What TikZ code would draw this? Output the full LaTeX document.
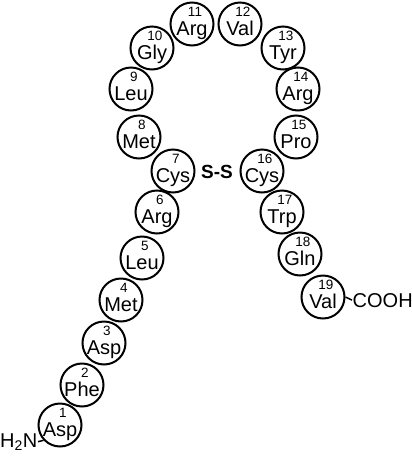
\documentclass[tikz,border=0pt]{standalone}
\usepackage{fontspec}
\setmainfont{Liberation Sans}
\tikzset{
  res/.style={circle, draw, line width=2pt, minimum size=43pt, inner sep=0pt},
  resname/.style={anchor=base, inner sep=0pt, font=\fontsize{20}{20}\selectfont},
  resnum/.style={anchor=base, inner sep=0pt, font=\fontsize{13.5}{13.5}\selectfont},
  endgroup/.style={inner sep=0.5pt, font=\fontsize{20}{20}\selectfont}
}
\begin{document}
\begin{tikzpicture}[x=1pt,y=-1pt]
    \useasboundingbox (0,0) rectangle (412,456);
    \foreach \i/\x/\y/\name in {1/60/425/Asp, 2/82/385/Phe, 3/104/343/Asp, 4/121/300/Met,
        5/142/258/Leu, 6/157/212/Arg, 7/173/171/Cys, 8/139/137/Met, 9/131/89/Leu,
        10/152/48/Gly, 11/192/24/Arg, 12/240/24/Val, 13/283/48/Tyr, 14/298/89/Arg,
        15/296/137/Pro, 16/262/171/Cys, 17/282/212/Trp, 18/300/254/Gln, 19/323/297/Val}
    {
        \node[res] (r\i) at (\x,\y) {};
        \node[resname] (n\i) at ([yshift=-11pt]r\i.center) {\name};
        \node[resnum] (k\i) at ([xshift=3pt,yshift=7.5pt]r\i.center) {\i};
    }
    \node[endgroup, anchor=base, font=\fontsize{19}{19}\selectfont\bfseries] (ss) at (217,178) {S-S};
    \node[endgroup, anchor=base east] (h2n) at (38,447) {H\textsubscript{2}N};
    \node[endgroup, anchor=base west] (cooh) at (352,307) {COOH};
    \draw[line width=1.5pt] (h2n.east) -- (r1.223);
    \draw[line width=1.5pt] (r19.east) -- (cooh.west);
\end{tikzpicture}
\end{document}
